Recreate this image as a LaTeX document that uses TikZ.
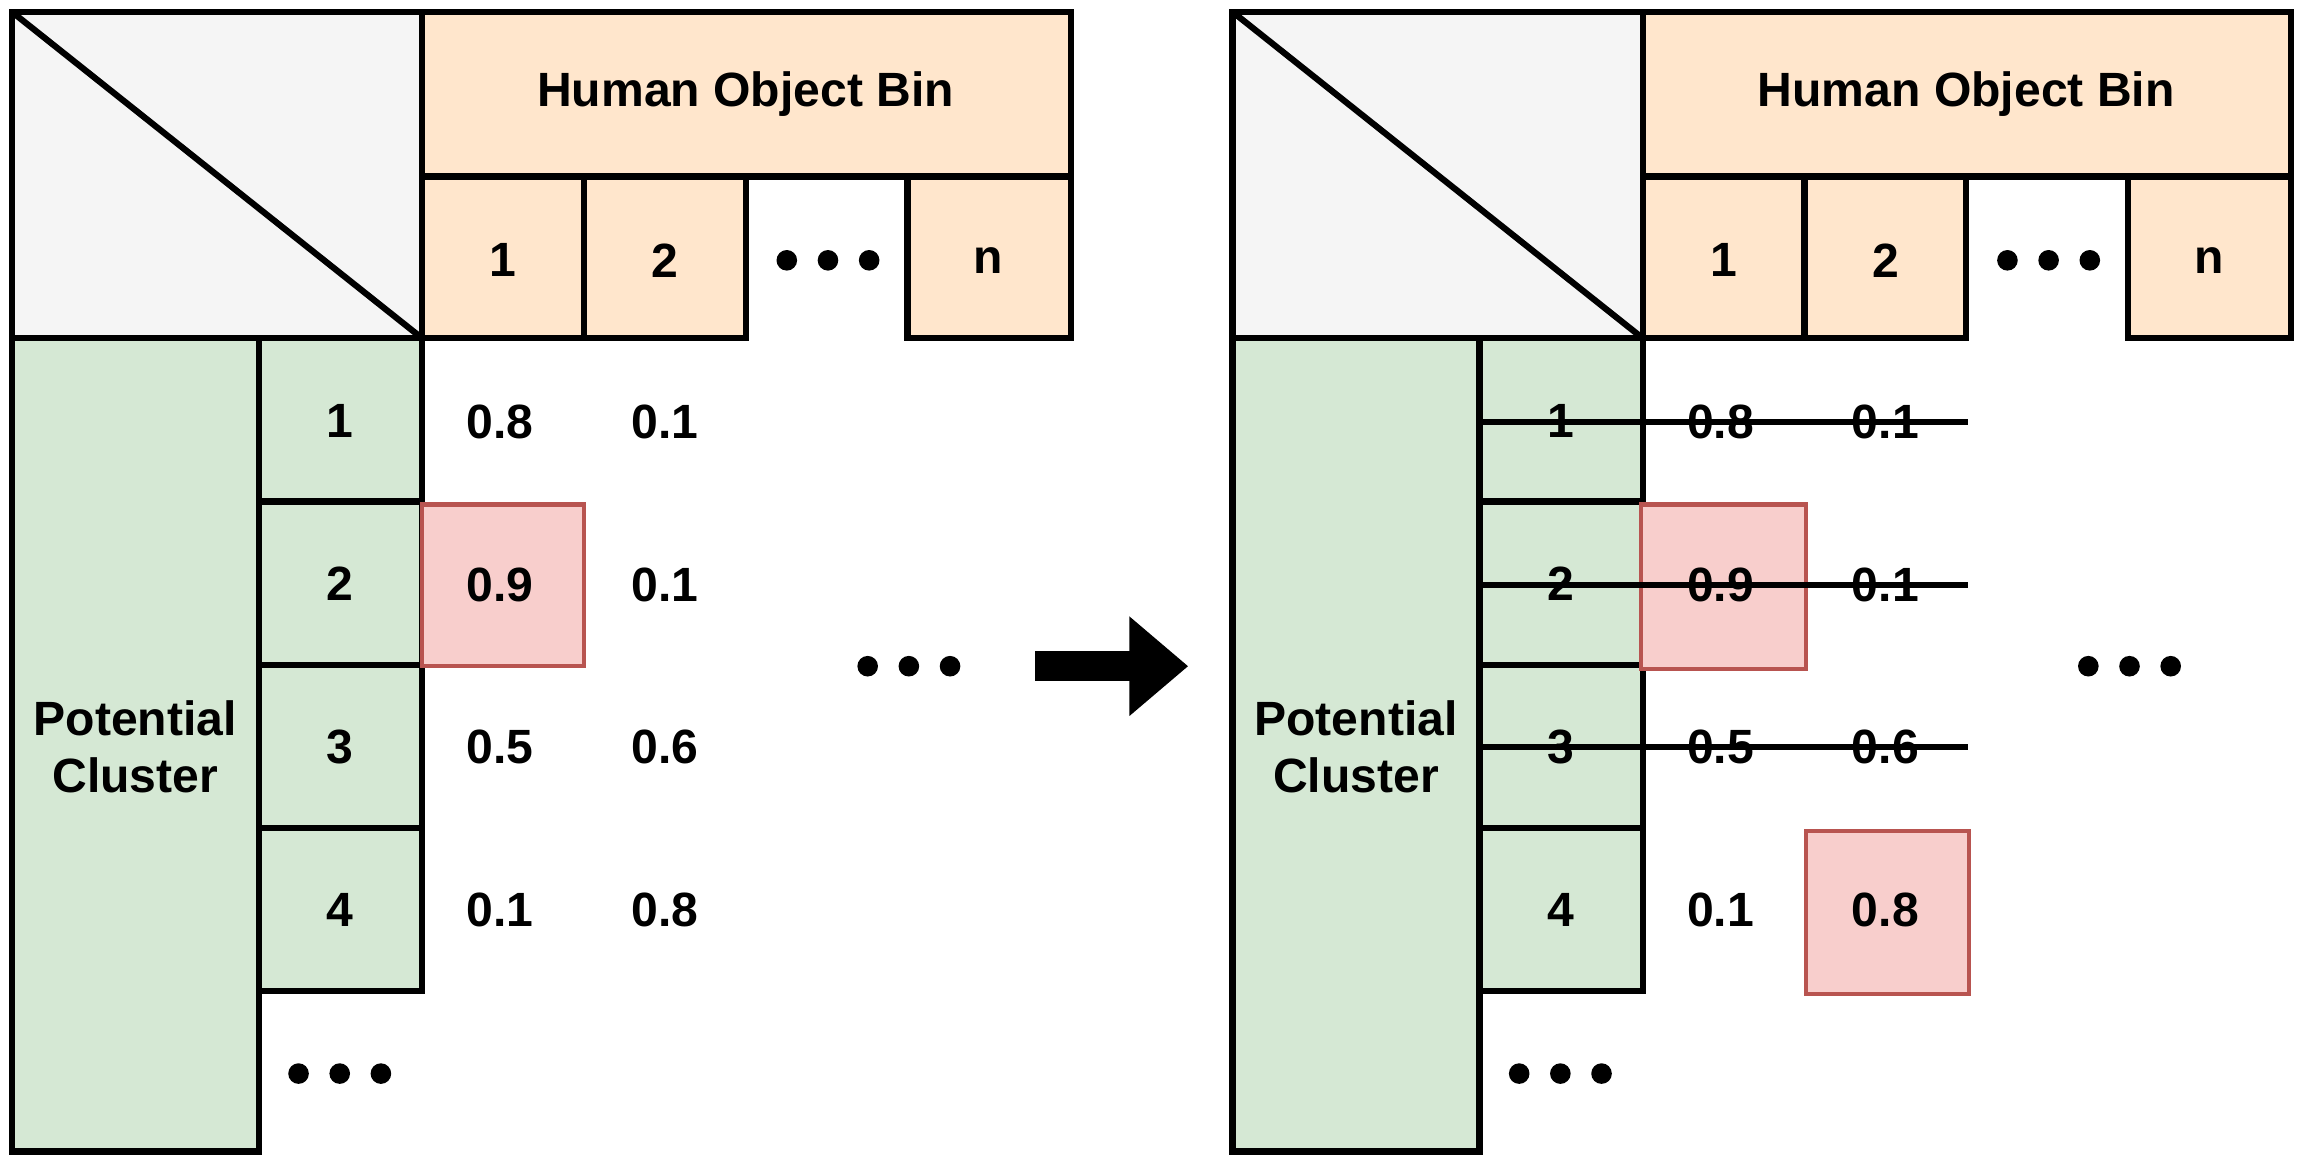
\documentclass[tikz,border=0pt]{standalone}
\usepackage{fontspec}
\setmainfont{Liberation Sans}
\usetikzlibrary{arrows.meta}
\definecolor{gr}{HTML}{F5F5F5}
\definecolor{og}{HTML}{FFE6CC}
\definecolor{gn}{HTML}{D5E8D4}
\definecolor{rd}{HTML}{F8CECC}
\definecolor{rdb}{HTML}{B85450}
\begin{document}
\begin{tikzpicture}[x=0.01cm,y=-0.01cm,
  box/.style={draw=black,line width=1.2pt},
  red/.style={draw=rdb,fill=rd,line width=0.8pt},
  lab/.style={font=\fontsize{9.3}{11}\selectfont\bfseries,align=center,inner sep=0pt},
  dot/.style={circle,fill=black,inner sep=0pt,minimum size=0.14cm}]
\useasboundingbox (0,0) rectangle (1568,797);
\newcommand\mydots[3]{\node[dot] (#1a) at (#2-28,#3) {};\node[dot] (#1b) at (#2,#3) {};\node[dot] (#1c) at (#2+28,#3) {};}
\newcommand\panel[2]{%
 \begin{scope}[xshift=#1*0.01cm]
 \fill[gr] (8,8) rectangle (287,230);
 \draw[box] (8,230) -- (8,8) -- (287,8) -- (287,230);
 \draw[box] (8,8) -- (287,230);
 \draw[box,fill=og] (287,8) rectangle (728,120);
 \node[lab] (#2h) at (507,64) {Human Object Bin};
 \draw[box,fill=og] (287,120) rectangle (397,230);
 \draw[box,fill=og] (397,120) rectangle (507,230);
 \draw[box,fill=og] (617,120) rectangle (728,230);
 \node[lab] (#2c1) at (342,177) {1};
 \node[lab] (#2c2) at (452,177) {2};
 \node[lab] (#2cn) at (672,177) {n};
 \mydots{#2hd}{563}{177}
 \draw[box,fill=gn] (8,230) rectangle (176,783);
 \node[lab] (#2pc) at (92,508) {Potential\\Cluster};
 \foreach \i/\y in {1/230,2/341,3/452,4/563}{
   \draw[box,fill=gn] (176,\y) rectangle (287,\y+111);
   \node[lab] (#2r\i) at (231,\y+56) {\i};}
 \mydots{#2rd}{231}{730}
 \end{scope}}
\panel{0}{L}
\panel{830}{R}
% left values
\draw[red] (287,343) rectangle (397,453);
\node[lab] (v11) at (340,287) {0.8}; \node[lab] (v12) at (452,287) {0.1};
\node[lab] (v21) at (340,398) {0.9}; \node[lab] (v22) at (452,398) {0.1};
\node[lab] (v31) at (340,508) {0.5}; \node[lab] (v32) at (452,508) {0.6};
\node[lab] (v41) at (340,619) {0.1}; \node[lab] (v42) at (452,619) {0.8};
\mydots{md}{618}{453}
% arrow
\coordinate (a1) at (704,453); \coordinate (a2) at (808,453);
\draw[line width=0.2cm,-{Triangle[length=0.4cm,width=0.65cm]}] (a1) -- (a2);
% right values
\draw[red] (1116,343) rectangle (1228,455);
\draw[red] (1228,565) rectangle (1339,676);
\node[lab] (w11) at (1170,287) {0.8}; \node[lab] (w12) at (1282,287) {0.1};
\node[lab] (w21) at (1170,398) {0.9}; \node[lab] (w22) at (1282,398) {0.1};
\node[lab] (w31) at (1170,508) {0.5}; \node[lab] (w32) at (1282,508) {0.6};
\node[lab] (w41) at (1170,619) {0.1}; \node[lab] (w42) at (1282,619) {0.8};
\mydots{rd2}{1448}{453}
\foreach \y in {287,398,508}{
 \coordinate (s\y) at (1006,\y); \coordinate (e\y) at (1338,\y);
 \draw[line width=1.2pt] (s\y) -- (e\y);}
\end{tikzpicture}
\end{document}
